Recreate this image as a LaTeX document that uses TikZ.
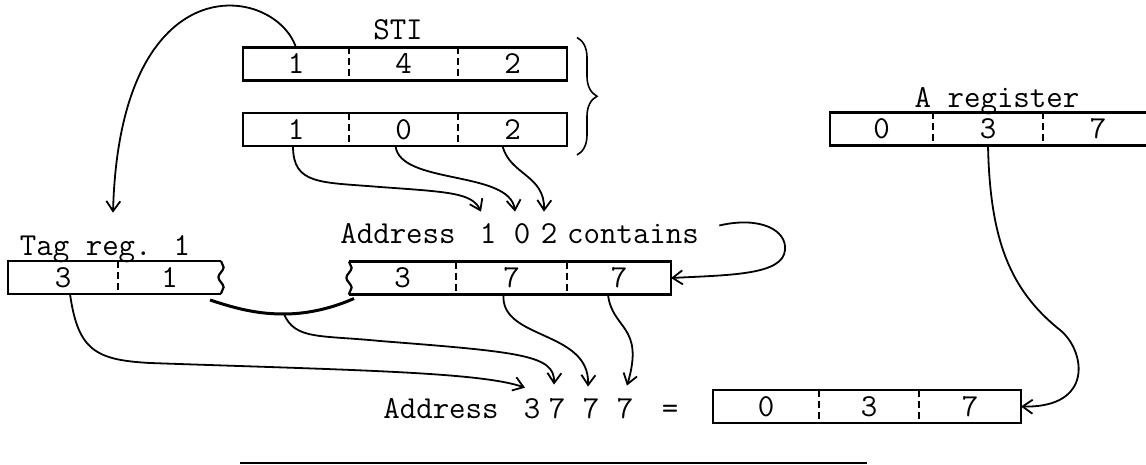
\documentclass[tikz,border=0pt]{standalone}
\usepackage{fontspec}
\usepackage{tikz}
\usetikzlibrary{arrows.meta,calc,positioning,decorations.pathmorphing,decorations.pathreplacing}

\newcommand{\regfont}{\ttfamily\fontsize{16}{19}\selectfont}
\tikzset{
  cell/.style={minimum width={#1*0.5pt}, minimum height=16.5pt, inner sep=0pt, outer sep=0pt, font=\regfont},
  txt/.style={inner sep=0pt, anchor=base, font=\regfont},
  box/.style={line width=1.1pt},
  sep/.style={line width=0.7pt, dash pattern=on 3.5pt off 2pt},
  wavy/.style={decorate, decoration={snake, amplitude=1.3pt, segment length=10pt}},
  link/.style={line width=0.9pt, -{Straight Barb[length=5pt,width=7pt]}}
}

\begin{document}
\begin{tikzpicture}[x=0.5pt, y=-0.5pt]
\useasboundingbox (0,0) rectangle (1146,465);

% STI
\node[txt] (stil) at (398,40) {STI};
\node[cell=106] (st1a) at (296,64) {1};
\node[cell=109, right=0pt of st1a] (st1b) {4};
\node[cell=109, right=0pt of st1b] (st1c) {2};
\node[cell=106] (st2a) at (296,129.5) {1};
\node[cell=109, right=0pt of st2a] (st2b) {0};
\node[cell=109, right=0pt of st2b] (st2c) {2};
\draw [line width=0.8pt, decorate, decoration={brace, amplitude=10pt}] ($(st1c.north east)+(10,-10)$) -- ($(st2c.south east)+(10,9)$);

% A register
\node[txt] (arl) at (997,108) {A register};
\node[cell=103] (ara) at (881.5,129) {0};
\node[cell=110, right=0pt of ara] (arb) {3};
\node[cell=110, right=0pt of arb] (arc) {7};

% tag register
\node[txt] (tagl) at (105,255) {Tag reg. 1};
\node[cell=110] (tga) at (63,277.5) {3};
\node[cell=103, right=0pt of tga] (tgb) {1};

% word at address 102
\node[txt] (mad) at (398,243) {Address};
\node[txt] (m1) at (488,243) {1};
\node[txt] (m0) at (522,243) {0};
\node[txt] (m2) at (549,243) {2};
\node[txt] (cont) at (633,243) {contains};
\node[cell=107] (mma) at (402.5,278) {3};
\node[cell=111, right=0pt of mma] (mmb) {7};
\node[cell=104, right=0pt of mmb] (mmc) {7};

% address 3777
\node[txt] (rad) at (441,418) {Address};
\node[txt] (r3) at (532,418) {3};
\node[txt] (r7a) at (557,418) {7};
\node[txt] (r7b) at (591,418) {7};
\node[txt] (r7c) at (625,418) {7};
\node[txt] (req) at (670,418) {=};
\node[cell=106] (rsa) at (766,406.5) {0};
\node[cell=100, right=0pt of rsa] (rsb) {3};
\node[cell=102, right=0pt of rsb] (rsc) {7};

% outlines
\draw [box] (st1a.north west) rectangle (st1c.south east);
\draw [box] (st2a.north west) rectangle (st2c.south east);
\draw [box] (ara.north west) rectangle (arc.south east);
\draw [box] (rsa.north west) rectangle (rsc.south east);
\draw [box] (tgb.north east) -- (tga.north west) -- (tga.south west) -- (tgb.south east);
\draw [box, wavy] (tgb.north east) -- (tgb.south east);
\draw [box] (mma.north west) -- (mmc.north east) -- (mmc.south east) -- (mma.south west);
\draw [box, wavy] (mma.north west) -- (mma.south west);
\foreach \c in {st1a,st1b,st2a,st2b,ara,arb,tga,mma,mmb,rsa,rsb}
  \draw [sep] (\c.north east) -- (\c.south east);

% connectors
\draw [link] (st1a.north) .. controls (275,-15) and (120,-40) .. ($(tagl.north)+(8,-22)$);
\draw [link] ($(st2a.south)+(-3,0)$) .. controls (293,185) and (320,182) .. (380,187) .. controls (450,192) and (472,193) .. ($(m1.north)+(-7,-11)$);
\draw [link] ($(st2b.south)+(-8,0)$) .. controls (400,185) and (510,170) .. ($(m0.north)+(-7,-11)$);
\draw [link] ($(st2c.south)+(-10,0)$) .. controls (510,175) and (545,175) .. ($(m2.north)+(-5,-11)$);
\draw [link] ($(cont.east)+(20,-8)$) .. controls (760,216) and (787,230) .. (785,250) .. controls (783,275) and (730,275) .. (mmc.east);

\coordinate (jn) at (284,314);
\draw [line width=1.5pt] ($(tgb.south east)+(-11,6)$) .. controls (240,310) and (260,314) .. (jn) .. controls (310,314) and (335,307) .. ($(mma.south west)+(5,4)$);
\draw [link] ($(tga.south)+(7,0)$) .. controls (78,350) and (95,360) .. (150,363) .. controls (350,370) and (480,372) .. ($(r3.north)+(-7,-10)$);
\draw [link] (jn) .. controls (295,340) and (320,335) .. (380,341) .. controls (520,352) and (555,355) .. ($(r7a.north)+(-3,-13)$);
\draw [link] ($(mmb.south)+(-8,0)$) .. controls (500,340) and (590,330) .. ($(r7b.north)+(-3,-11)$);
\draw [link] ($(mmc.south)+(-11,0)$) .. controls (612,330) and (645,325) .. ($(r7c.north)+(2,-12)$);
\draw [link] (arb.south) .. controls (990,240) and (1010,290) .. (1060,330) .. controls (1085,350) and (1095,408) .. (rsc.east);

\draw [box] (240,463) -- (867,463);
\end{tikzpicture}
\end{document}
